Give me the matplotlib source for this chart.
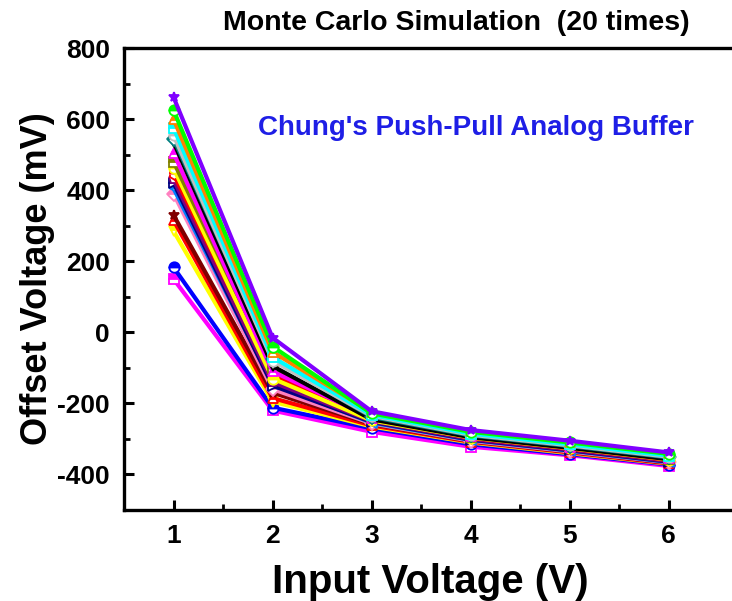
import numpy as np
import matplotlib
matplotlib.use("Agg")
import matplotlib.pyplot as plt

plt.rcParams['font.family'] = ['Liberation Sans', 'DejaVu Sans']
plt.rcParams['font.weight'] = 'bold'
plt.rcParams['axes.unicode_minus'] = False

# input voltage (V)
vin = [1, 2, 3, 4, 5, 6]

# offset voltage (mV) for each of the 20 Monte Carlo runs
run01 = [662, -15, -222, -275, -305, -338]
run02 = [625, -40, -228, -280, -310, -342]
run03 = [600, -55, -225, -278, -308, -340]
run04 = [575, -70, -232, -285, -315, -347]
run05 = [555, -80, -235, -288, -318, -350]
run06 = [545, -75, -238, -290, -320, -352]
run07 = [535, -95, -245, -295, -325, -357]
run08 = [505, -110, -240, -292, -322, -354]
run09 = [480, -100, -242, -294, -324, -356]
run10 = [462, -130, -248, -296, -326, -358]
run11 = [445, -120, -246, -297, -327, -359]
run12 = [430, -140, -250, -300, -330, -362]
run13 = [420, -150, -252, -302, -332, -364]
run14 = [405, -145, -254, -303, -333, -365]
run15 = [390, -160, -256, -305, -335, -366]
run16 = [330, -170, -258, -306, -336, -367]
run17 = [315, -185, -262, -308, -338, -369]
run18 = [285, -195, -265, -310, -340, -370]
run19 = [183, -212, -270, -315, -343, -372]
run20 = [150, -220, -280, -322, -346, -376]

runs = [run20, run19, run18, run17, run16, run15, run14, run13, run12, run11,
        run10, run09, run08, run07, run06, run05, run04, run03, run02, run01]
colors = ['#FF00FF', '#0000FF', '#FFFF00', '#FF0000', '#800000', '#FF80C0',
          '#0080FF', '#000080', '#800080', '#FF0000', '#FFFF00', '#808000',
          '#FF00FF', '#000000', '#008080', '#C0C0C0', '#00FFFF', '#FF8000',
          '#00FF00', '#8000FF']
markers = ['s', 'o', 'v', '^', '*', 'D', '<', '>', 'p', 'h',
           'o', 's', '^', 'v', 'D', 'o', 's', '^', 'o', '*']

fig = plt.figure(figsize=(7.32, 6.01), dpi=100)
ax = fig.add_axes([124/732, 91/601, 612/732, 462/601])

for r, c, m in zip(runs, colors, markers):
    ax.plot(vin, r, color=c, lw=3.0, marker=m, ms=7.5, mew=1.3,
            fillstyle='top', markerfacecoloralt='white')

ax.set_xlim(0.5, 0.5 + 612/99)
ax.set_ylim(-500, 800)
ax.set_xticks(vin)
ax.set_xticks([1.5, 2.5, 3.5, 4.5, 5.5], minor=True)
ax.set_yticks([-400, -200, 0, 200, 400, 600, 800])
ax.set_yticks([-300, -100, 100, 300, 500, 700], minor=True)
ax.tick_params(which='major', direction='in', length=7, width=2.2,
               labelsize=19, pad=10)
ax.tick_params(which='minor', direction='in', length=4, width=2)
for s in ax.spines.values():
    s.set_linewidth(2.4)

ax.set_xlabel('Input Voltage (V)', fontsize=29, fontweight='bold', labelpad=11)
ax.set_ylabel('Offset Voltage (mV)', fontsize=26, fontweight='bold', labelpad=2)
fig.text(0.623, 0.962, 'Monte Carlo Simulation  (20 times)', fontsize=20.5,
         fontweight='bold', ha='center', va='center')
ax.text(0.5 + 134/99, 575, "Chung's Push-Pull Analog Buffer", fontsize=20,
        fontweight='bold', color='#1E1EE6', va='center')

fig.savefig('out.png', dpi=100)
